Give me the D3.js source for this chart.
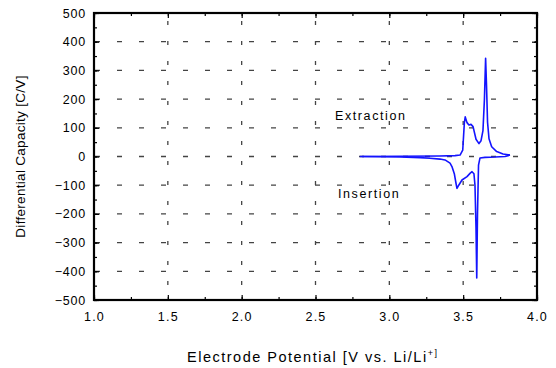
<!DOCTYPE html>
<html><head><meta charset="utf-8">
<script src="https://cdn.jsdelivr.net/npm/d3@7"></script>
<style>body{margin:0;background:#fff}svg{display:block}text{font-family:"Liberation Sans",Arial,sans-serif;fill:#000}</style>
</head><body><svg id="c" width="556" height="368"></svg>
<script>
// Data
const xTicks = [1.0, 1.5, 2.0, 2.5, 3.0, 3.5, 4.0];
const yTicks = [500, 400, 300, 200, 100, 0, -100, -200, -300, -400, -500];
const extractionV = [2.80, 3.07, 3.34, 3.445, 3.479, 3.497, 3.508, 3.514, 3.526, 3.539, 3.553, 3.567, 3.587, 3.607, 3.621, 3.634, 3.644, 3.652, 3.658, 3.665, 3.675, 3.693, 3.727, 3.770, 3.817];
const extractionC = [0, 1, 2, 3, 5, 22, 117, 138, 118, 110, 112, 104, 60, 45, 55, 90, 200, 342, 250, 120, 62, 34, 17, 9, 5];
const insertionV = [3.817, 3.783, 3.716, 3.648, 3.614, 3.604, 3.597, 3.592, 3.587, 3.580, 3.573, 3.560, 3.548, 3.526, 3.492, 3.470, 3.458, 3.452, 3.440, 3.424, 3.411, 3.377, 3.343, 3.275, 3.208, 3.072, 2.937, 2.815];
const insertionC = [5, 0, -2, -3, -5, -30, -200, -423, -250, -100, -60, -53, -58, -70, -82, -100, -111, -95, -60, -35, -23, -12, -9, -6, -4, -2, -1, 0];
const labels = [{t:"Extraction", v:2.632, c:127}, {t:"Insertion", v:2.652, c:-145}];

const svg = d3.select("#c");
const L = 94, R = 537, T = 13, B = 300;
const x = d3.scaleLinear().domain([1, 4]).range([L, R]);
const y = d3.scaleLinear().domain([-500, 500]).range([B, T]);

// grid
const g = svg.append("g");
g.selectAll("line.h").data(yTicks.slice(1, -1)).join("line")
  .attr("x1", L).attr("x2", R).attr("y1", d => y(d)).attr("y2", d => y(d))
  .attr("stroke", "#444").attr("stroke-width", 1.3).attr("stroke-dasharray", "5,17").attr("stroke-dashoffset", -1);
g.selectAll("line.v").data(xTicks.slice(1, -1)).join("line")
  .attr("x1", d => x(d)).attr("x2", d => x(d)).attr("y1", T).attr("y2", B)
  .attr("stroke", "#444").attr("stroke-width", 1.3).attr("stroke-dasharray", "4,16").attr("stroke-dashoffset", -8);

// axes with inward ticks
const minorX = d3.range(1, 4.001, 0.25);
const minorY = d3.range(-500, 501, 50);
function ax(axisGen, tr) {
  return svg.append("g").attr("transform", tr).call(axisGen).call(s => s.select(".domain").remove());
}
const bx = ax(d3.axisBottom(x).tickValues(xTicks).tickSize(-5).tickPadding(10).tickFormat(d3.format(".1f")), `translate(0,${B})`);
bx.selectAll("text").attr("font-size", 12.5).attr("letter-spacing", 1.2).attr("dy", "0.9em");
ax(d3.axisBottom(x).tickValues(minorX).tickSize(-3).tickFormat(""), `translate(0,${B})`);
ax(d3.axisTop(x).tickValues(xTicks).tickSize(-5).tickFormat(""), `translate(0,${T})`);
ax(d3.axisTop(x).tickValues(minorX).tickSize(-3).tickFormat(""), `translate(0,${T})`);
const ly = ax(d3.axisLeft(y).tickValues(yTicks).tickSize(-5).tickPadding(8), `translate(${L},0)`);
ly.selectAll("text").attr("font-size", 12.5).attr("letter-spacing", 0.8);
ax(d3.axisLeft(y).tickValues(minorY).tickSize(-3).tickFormat(""), `translate(${L},0)`);
ax(d3.axisRight(y).tickValues(yTicks).tickSize(-5).tickFormat(""), `translate(${R},0)`);
ax(d3.axisRight(y).tickValues(minorY).tickSize(-3).tickFormat(""), `translate(${R},0)`);
svg.selectAll(".tick line").attr("stroke", "#000").attr("stroke-width", 1.2);

// frame
svg.append("rect").attr("x", L).attr("y", T).attr("width", R - L).attr("height", B - T)
  .attr("fill", "none").attr("stroke", "#000").attr("stroke-width", 2.2);

// curves
const line = d3.line().x(d => x(d[0])).y(d => y(d[1]));
const series = [d3.zip(extractionV, extractionC), d3.zip(insertionV, insertionC)];
svg.selectAll("path.s").data(series).join("path")
  .attr("d", line).attr("fill", "none").attr("stroke", "#1414ff").attr("stroke-width", 1.6)
  .attr("stroke-linejoin", "round");

// annotations
svg.selectAll("text.lab").data(labels).join("text")
  .attr("x", d => x(d.v)).attr("y", d => y(d.c)).attr("font-size", 12.5).attr("letter-spacing", 1.6)
  .text(d => d.t);

// axis titles
svg.append("text").attr("transform", `translate(25,${(T + B) / 2}) rotate(-90)`)
  .attr("text-anchor", "middle").attr("font-size", 13.5).attr("letter-spacing", 0.3)
  .text("Differential Capacity [C/V]");
const xt = svg.append("text").attr("x", 187).attr("y", 362).attr("font-size", 14.5).attr("letter-spacing", 1.5);
xt.append("tspan").text("Electrode Potential [V vs. Li/Li");
xt.append("tspan").attr("dy", -6).attr("font-size", 9).text("+]");
</script></body></html>
